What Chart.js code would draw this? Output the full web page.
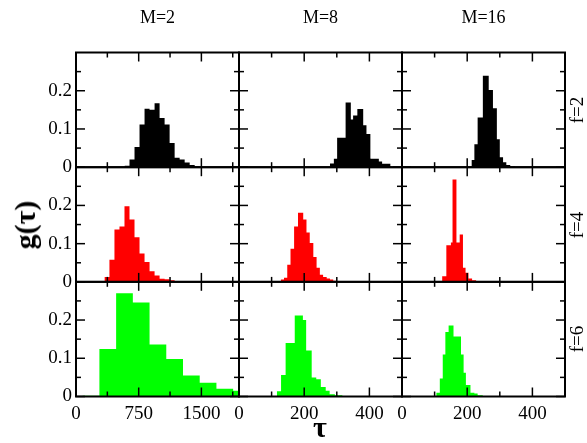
<!DOCTYPE html>
<html>
<head>
<meta charset="utf-8">
<title>g(τ)</title>
<script src="https://cdn.jsdelivr.net/npm/chart.js@4.4.1/dist/chart.umd.min.js"></script>
<style>
  body { margin: 0; background: #fff; }
  #figure { position: relative; width: 587px; height: 443px; overflow: hidden; font-family: 'Liberation Serif', serif; color: #000; }
  #figure canvas { position: absolute; left: 0; top: 0; }
  .label { position: absolute; white-space: nowrap; line-height: 1; transform: translate(-50%, -50%); }
  .label.rot { transform: translate(-50%, -50%) rotate(-90deg); }
</style>
</head>
<body>
<div id="figure"></div>
<script>
// columns: M, rows: f
const masses  = ['M=2', 'M=8', 'M=16'];
const fields  = ['f=2', 'f=4', 'f=6'];
const colours = ['#000000', '#ff0000', '#00ff00'];

// axis ranges and ticks
const xMax   = [1950, 500, 500];
const yMax   = 0.3;
const xMajor = [[0, 750, 1500], [0, 200, 400], [0, 200, 400]];
const xMinor = [[375, 1125, 1875], [100, 300], [100, 300]];
const yMajor = [0, 0.1, 0.2];
const yMinor = [0.05, 0.15, 0.25];

// histograms: bin edges (tau) and g(tau) per bin
const edgesF2M2  = [580, 640, 700, 760, 820, 880, 940, 1000, 1060, 1120, 1180, 1240, 1300, 1360, 1420, 1480];
const gF2M2      = [0.004, 0.02, 0.053, 0.112, 0.153, 0.15, 0.167, 0.129, 0.112, 0.063, 0.025, 0.02, 0.012, 0.006, 0.002];
const edgesF2M8  = [279, 291, 301, 327, 343, 350, 363, 381, 391, 403, 429, 439, 465];
const gF2M8      = [0.01, 0.022, 0.077, 0.169, 0.125, 0.135, 0.152, 0.11, 0.087, 0.022, 0.015, 0.009];
const edgesF2M16 = [213, 222, 232, 248, 266, 279, 291, 300, 310, 320, 332, 347];
const gF2M16     = [0.019, 0.06, 0.13, 0.239, 0.202, 0.154, 0.073, 0.026, 0.013, 0.006, 0.002];

const edgesF4M2  = [340, 400, 460, 520, 580, 640, 700, 760, 820, 880, 940, 1000, 1060, 1120, 1180, 1240];
const gF4M2      = [0.013, 0.058, 0.137, 0.145, 0.198, 0.163, 0.117, 0.074, 0.052, 0.028, 0.017, 0.008, 0.007, 0.004, 0.002];
const edgesF4M8  = [128, 138, 148, 158, 169, 181, 197, 207, 217, 228, 238, 248, 258, 269, 279, 289, 297];
const gF4M8      = [0.006, 0.011, 0.045, 0.087, 0.145, 0.181, 0.163, 0.129, 0.102, 0.065, 0.037, 0.019, 0.013, 0.009, 0.006, 0.003];
const edgesF4M16 = [123, 136, 150, 155, 167, 177, 187, 195, 204, 215, 228];
const gF4M16     = [0.015, 0.096, 0.103, 0.268, 0.103, 0.124, 0.037, 0.024, 0.009, 0.004];

const edgesF6M2  = [-120, 80, 280, 480, 680, 880, 1080, 1280, 1480, 1680, 1880, 2080];
const gF6M2      = [0.001, 0.002, 0.124, 0.27, 0.246, 0.136, 0.098, 0.055, 0.036, 0.02, 0.015];
const edgesF6M8  = [116, 129, 143, 171, 196, 206, 223, 237, 251, 266, 278, 294, 317, 332];
const gF6M8      = [0.014, 0.056, 0.14, 0.212, 0.2, 0.12, 0.05, 0.045, 0.025, 0.015, 0.006, 0.003, 0.001];
const edgesF6M16 = [105, 116, 125, 133, 143, 158, 181, 189, 196, 210, 222, 232, 248];
const gF6M16     = [0.01, 0.047, 0.11, 0.169, 0.186, 0.157, 0.11, 0.062, 0.03, 0.01, 0.008, 0.003];

const panels = [
  [[edgesF2M2, gF2M2], [edgesF2M8, gF2M8], [edgesF2M16, gF2M16]],
  [[edgesF4M2, gF4M2], [edgesF4M8, gF4M8], [edgesF4M16, gF4M16]],
  [[edgesF6M2, gF6M2], [edgesF6M8, gF6M8], [edgesF6M16, gF6M16]]
];

// page geometry
const W = 587, H = 443;
const colLeft = [76, 239, 402], colWidth = 163;
const rowTop  = [52.5, 167.2, 281.8], rowHeight = 114.7;
const tickFont = { family: 'Liberation Serif', size: 19 };

const fig = document.getElementById('figure');

function addLabel(text, x, y, size, bold, rotated) {
  const el = document.createElement('div');
  el.className = 'label' + (rotated ? ' rot' : '');
  el.textContent = text;
  el.style.left = x + 'px';
  el.style.top = y + 'px';
  el.style.fontSize = size + 'px';
  if (bold) el.style.fontWeight = 'bold';
  fig.appendChild(el);
}

// box around each panel, ticks pointing inwards on all four sides
const framePlugin = {
  id: 'frame',
  afterDatasetsDraw(chart, args, opts) {
    const { ctx, chartArea: a, scales: { x, y } } = chart;
    const seg = (x1, y1, x2, y2) => { ctx.beginPath(); ctx.moveTo(x1, y1); ctx.lineTo(x2, y2); ctx.stroke(); };
    ctx.save();
    ctx.strokeStyle = '#000';
    ctx.lineWidth = 1.5;
    const xt = (v, len) => { const p = x.getPixelForValue(v); seg(p, a.bottom, p, a.bottom - len); seg(p, a.top, p, a.top + len); };
    const yt = (v, len) => { const p = y.getPixelForValue(v); seg(a.left, p, a.left + len, p); seg(a.right, p, a.right - len, p); };
    opts.xMajor.forEach(v => xt(v, 9));
    opts.xMinor.forEach(v => xt(v, 5));
    yMajor.forEach(v => yt(v, 9));
    yMinor.forEach(v => yt(v, 5));
    ctx.lineWidth = 2;
    ctx.strokeRect(a.left, a.top, a.width, a.height);
    ctx.restore();
  }
};

fields.forEach((f, r) => masses.forEach((m, c) => {
  const canvas = document.createElement('canvas');
  canvas.width = W; canvas.height = H;
  fig.appendChild(canvas);

  const [edges, g] = panels[r][c];
  const points = g.map((v, i) => ({ x: edges[i], y: v }));
  points.push({ x: edges[edges.length - 1], y: 0 });

  // the scale boxes fill everything left of / below the panel so their labels are not clipped
  const leftBox = colLeft[c];
  const bottomBox = H - rowTop[r] - rowHeight;

  new Chart(canvas, {
    type: 'line',
    data: {
      datasets: [{
        data: points,
        stepped: true,
        fill: 'origin',
        backgroundColor: colours[r],
        borderColor: 'rgba(0,0,0,0)',
        borderWidth: 0,
        pointRadius: 0,
        pointHoverRadius: 0
      }]
    },
    options: {
      responsive: false,
      animation: false,
      devicePixelRatio: 1,
      events: [],
      layout: {
        padding: { left: 0, bottom: 0, right: W - colLeft[c] - colWidth, top: rowTop[r] }
      },
      plugins: {
        legend: { display: false },
        tooltip: { enabled: false },
        frame: { xMajor: xMajor[c], xMinor: xMinor[c] }
      },
      scales: {
        x: {
          type: 'linear',
          min: 0, max: xMax[c],
          grid: { display: false, drawTicks: false },
          border: { display: false },
          afterBuildTicks: s => { s.ticks = xMajor[c].map(v => ({ value: v })); },
          afterFit: s => { s.height = bottomBox; },
          ticks: {
            display: r === 2, autoSkip: false, maxRotation: 0, padding: 6,
            color: '#000', font: tickFont, callback: v => String(v)
          }
        },
        y: {
          type: 'linear',
          min: 0, max: yMax,
          grid: { display: false, drawTicks: false },
          border: { display: false },
          afterBuildTicks: s => { s.ticks = yMajor.map(v => ({ value: v })); },
          afterFit: s => { s.width = leftBox; },
          ticks: {
            display: c === 0, autoSkip: false, padding: 4,
            color: '#000', font: tickFont, callback: v => String(v)
          }
        }
      }
    },
    plugins: [framePlugin]
  });
}));

// panel headings and axis titles
masses.forEach((m, c) => addLabel(m, colLeft[c] + colWidth / 2, 17, 18, false, false));
fields.forEach((f, r) => addLabel(f, 576, rowTop[r] + rowHeight / 2, 19, false, true));
addLabel('g(τ)', 25, 225, 30, true, true);
addLabel('τ', 320, 427, 30, true, false);
</script>
</body>
</html>
